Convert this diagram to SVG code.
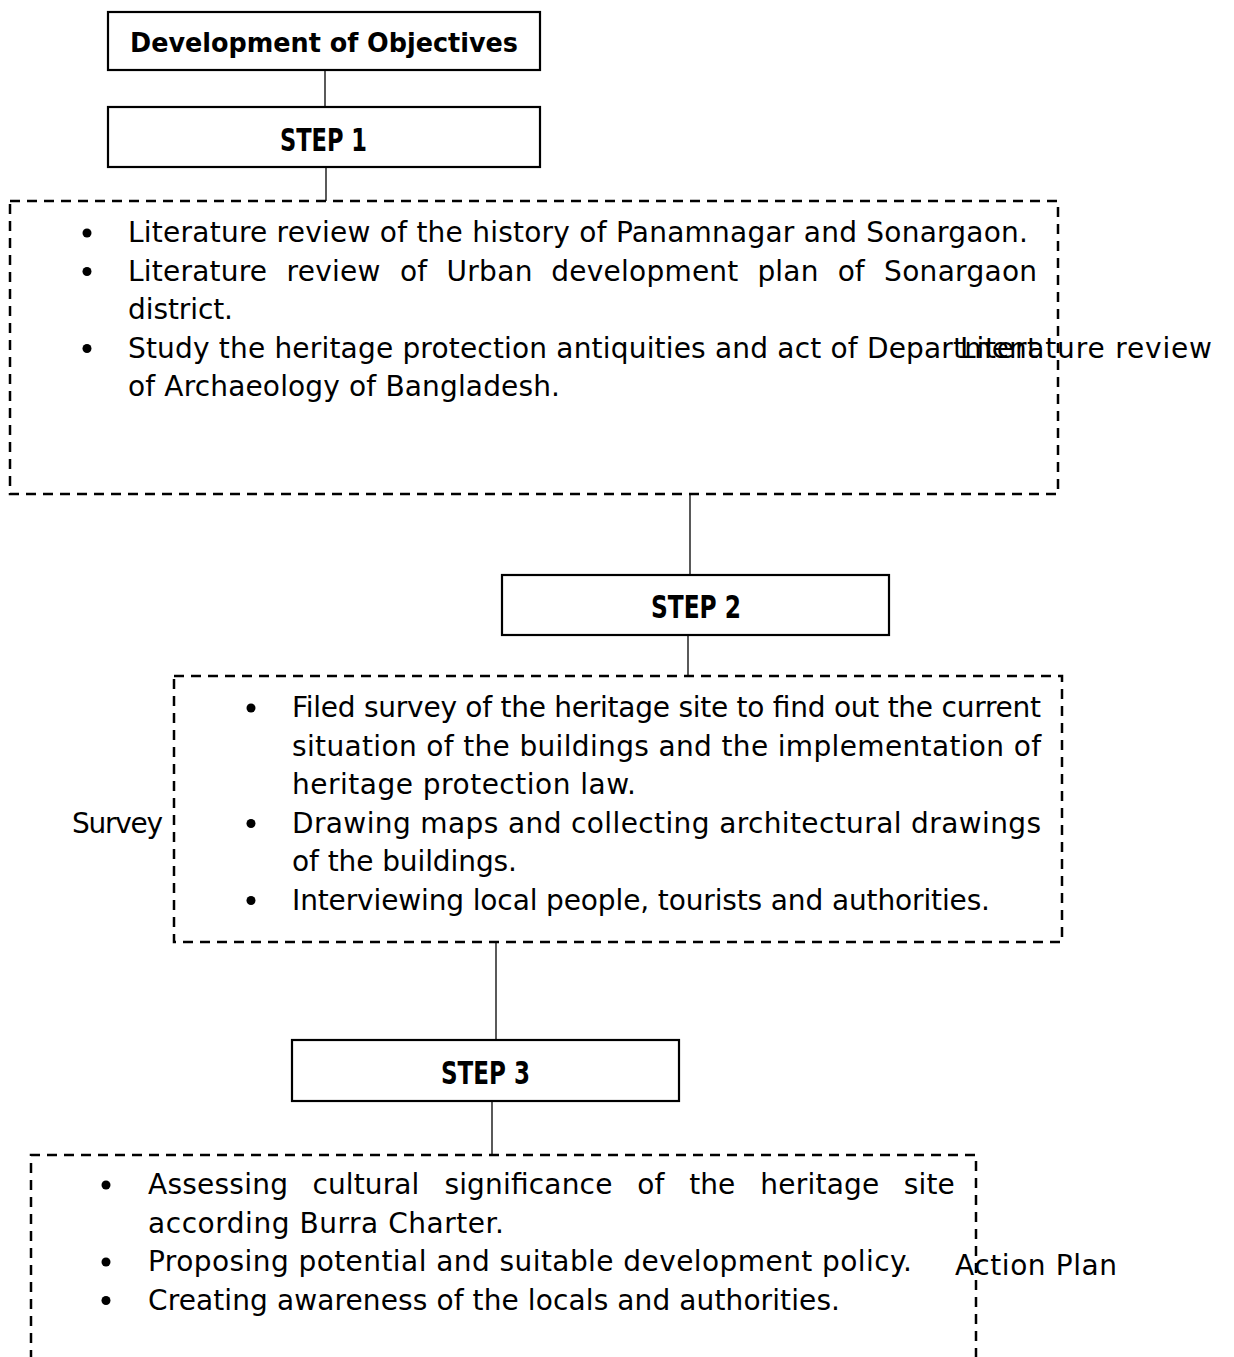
<svg xmlns="http://www.w3.org/2000/svg" width="1234" height="1357" viewBox="0 0 1234 1357">
<style>
.box{fill:#fff;stroke:#000;stroke-width:2.2}
.dash{fill:none;stroke:#000;stroke-width:2.5;stroke-dasharray:10 7}
.con{stroke:#000;stroke-width:1.3;fill:none}
.t{font-family:"DejaVu Sans","Liberation Sans",sans-serif;font-size:28px;fill:#000}
.b{font-family:"DejaVu Sans","Liberation Sans",sans-serif;font-size:27px;font-weight:bold;fill:#000}
.s{font-family:"DejaVu Sans","Liberation Sans",sans-serif;font-size:32px;font-weight:bold;fill:#000}
.dot{fill:#000}
</style>
<rect width="1234" height="1357" fill="#fff"/>
<g id="connectors">
<line class="con" x1="325" y1="70" x2="325" y2="107"/>
<line class="con" x1="326" y1="167" x2="326" y2="201"/>
<line class="con" x1="690" y1="494" x2="690" y2="575"/>
<line class="con" x1="688" y1="635" x2="688" y2="676"/>
<line class="con" x1="496" y1="942" x2="496" y2="1040"/>
<line class="con" x1="492" y1="1101" x2="492" y2="1155"/>
</g>
<g id="objectives">
<rect class="box" x="108" y="12" width="432" height="58"/>
<text class="b" x="130" y="52" textLength="388" lengthAdjust="spacingAndGlyphs">Development of Objectives</text>
</g>
<g id="step1">
<rect class="box" x="108" y="107" width="432" height="60"/>
<text class="s" x="280" y="151" textLength="87" lengthAdjust="spacingAndGlyphs">STEP 1</text>
</g>
<g id="literature">
<rect class="dash" x="10" y="201" width="1048" height="293"/>
<circle class="dot" cx="87" cy="233" r="4.5"/>
<circle class="dot" cx="87" cy="271.5" r="4.5"/>
<circle class="dot" cx="87" cy="348.5" r="4.5"/>
<text class="t" x="128" y="242" textLength="900">Literature review of the history of Panamnagar and Sonargaon.</text>
<text class="t" y="280.5"><tspan x="128" textLength="139">Literature</tspan><tspan x="286.5" textLength="94">review</tspan><tspan x="400" textLength="27">of</tspan><tspan x="446.4" textLength="86">Urban</tspan><tspan x="551.3" textLength="187">development</tspan><tspan x="757.4" textLength="61">plan</tspan><tspan x="837.7" textLength="27">of</tspan><tspan x="884.1" textLength="153">Sonargaon</tspan></text>
<text class="t" x="128" y="319" textLength="105">district.</text>
<text class="t" x="128" y="357.5" textLength="910">Study the heritage protection antiquities and act of Department</text>
<text class="t" x="128" y="396" textLength="432">of Archaeology of Bangladesh.</text>
</g>
<text id="label-literature" class="t" x="960" y="357.5" textLength="252">Literature review</text>
<g id="step2">
<rect class="box" x="502" y="575" width="387" height="60"/>
<text class="s" x="651" y="618" textLength="90" lengthAdjust="spacingAndGlyphs">STEP 2</text>
</g>
<g id="survey">
<rect class="dash" x="174" y="676" width="888" height="266"/>
<circle class="dot" cx="251" cy="708" r="4.5"/>
<circle class="dot" cx="251" cy="823.5" r="4.5"/>
<circle class="dot" cx="251" cy="900.5" r="4.5"/>
<text class="t" x="292" y="717" textLength="749">Filed survey of the heritage site to find out the current</text>
<text class="t" x="292" y="755.5" textLength="749">situation of the buildings and the implementation of</text>
<text class="t" x="292" y="794" textLength="344">heritage protection law.</text>
<text class="t" x="292" y="832.5" textLength="749">Drawing maps and collecting architectural drawings</text>
<text class="t" x="292" y="871" textLength="225">of the buildings.</text>
<text class="t" x="292" y="909.5" textLength="698">Interviewing local people, tourists and authorities.</text>
</g>
<text id="label-survey" class="t" x="72" y="832.5" textLength="91">Survey</text>
<g id="step3">
<rect class="box" x="292" y="1040" width="387" height="61"/>
<text class="s" x="441" y="1084" textLength="89" lengthAdjust="spacingAndGlyphs">STEP 3</text>
</g>
<g id="action">
<path class="dash" d="M31,1360 V1155 H976 V1360"/>
<circle class="dot" cx="106" cy="1185" r="4.5"/>
<circle class="dot" cx="106" cy="1262" r="4.5"/>
<circle class="dot" cx="106" cy="1300.5" r="4.5"/>
<text class="t" y="1194"><tspan x="148" textLength="140">Assessing</tspan><tspan x="312.4" textLength="107">cultural</tspan><tspan x="444.4" textLength="168">significance</tspan><tspan x="637.3" textLength="27">of</tspan><tspan x="689.2" textLength="46">the</tspan><tspan x="760.3" textLength="119">heritage</tspan><tspan x="903.8" textLength="51">site</tspan></text>
<text class="t" x="148" y="1232.5" textLength="356">according Burra Charter.</text>
<text class="t" x="148" y="1271" textLength="764">Proposing potential and suitable development policy.</text>
<text class="t" x="148" y="1309.5" textLength="692">Creating awareness of the locals and authorities.</text>
</g>
<text id="label-action" class="t" x="955" y="1275" textLength="162">Action Plan</text>
</svg>
